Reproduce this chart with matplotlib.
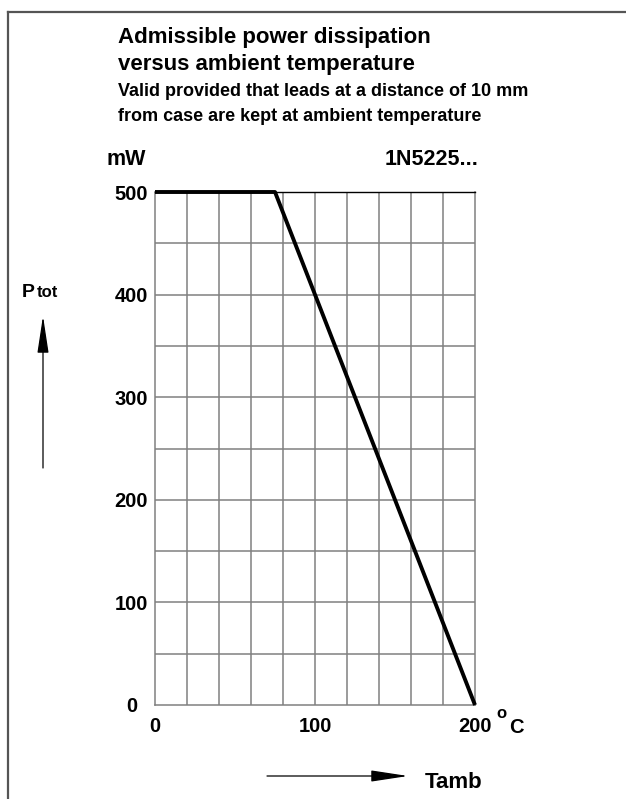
import matplotlib
matplotlib.use("Agg")
import matplotlib.pyplot as plt
from matplotlib.lines import Line2D

# derating curve
temp = [0, 75, 200]
power = [500, 500, 0]

x_ticks = [0, 100, 200]
y_ticks = [0, 100, 200, 300, 400, 500]
x_grid = list(range(0, 201, 20))
y_grid = list(range(0, 501, 50))

W, H = 626, 799
plt.rcParams['font.family'] = ['Liberation Sans', 'DejaVu Sans']
plt.rcParams['font.weight'] = 'bold'

fig = plt.figure(figsize=(W / 100, H / 100), dpi=100)


def fx(px):
    return px / W


def fy(py):
    return 1 - py / H


# outer frame (left and top edge only)
fig.add_artist(Line2D([fx(8), fx(8)], [fy(12), 0], color="#555555", lw=1.6))
fig.add_artist(Line2D([fx(8), 1], [fy(12), fy(12)], color="#555555", lw=1.6))

ax = fig.add_axes([fx(155), fy(705), fx(475) - fx(155), fy(192) - fy(705)])
ax.set_xlim(0, 200)
ax.set_ylim(0, 500)

for g in x_grid[1:-1]:
    ax.axvline(g, color="#808080", lw=1.1, zorder=1)
for g in y_grid[1:-1]:
    ax.axhline(g, color="#808080", lw=1.1, zorder=1)

ax.plot(temp, power, color="black", lw=2.8, solid_capstyle="butt", zorder=3,
        clip_on=False)

for s in ["left", "right", "bottom"]:
    ax.spines[s].set_color("#808080")
    ax.spines[s].set_linewidth(1.1)
ax.spines["top"].set_color("black")
ax.spines["top"].set_linewidth(1.0)

ax.set_xticks(x_ticks)
ax.set_xticklabels([str(v) for v in x_ticks], fontsize=14.5, fontweight="bold")
ax.set_yticks(y_ticks)
ax.set_yticklabels([str(v) for v in y_ticks], fontsize=14.5, fontweight="bold",
                   ha="center")
ax.tick_params(axis="both", length=0)
ax.tick_params(axis="x", pad=9)
ax.tick_params(axis="y", pad=17)

# titles
fig.text(fx(118), fy(43), "Admissible power dissipation", fontsize=16,
         fontweight="bold", va="baseline", ha="left")
fig.text(fx(118), fy(70), "versus ambient temperature", fontsize=16,
         fontweight="bold", va="baseline", ha="left")
fig.text(fx(118), fy(96), "Valid provided that leads at a distance of 10 mm",
         fontsize=13, fontweight="bold", va="baseline", ha="left")
fig.text(fx(118), fy(121), "from case are kept at ambient temperature",
         fontsize=13, fontweight="bold", va="baseline", ha="left")

fig.text(fx(107), fy(165), "mW", fontsize=15.5, fontweight="bold",
         va="baseline", ha="left")
fig.text(fx(478), fy(165), "1N5225...", fontsize=15.5, fontweight="bold",
         va="baseline", ha="right")

# unit after 200
fig.text(fx(501), fy(718), "o", fontsize=12, fontweight="bold",
         va="baseline", ha="center")
fig.text(fx(509), fy(733), "C", fontsize=14.5, fontweight="bold",
         va="baseline", ha="left")

# y axis quantity with arrow
fig.text(fx(22), fy(297), "P", fontsize=14, fontweight="bold",
         va="baseline", ha="left")
fig.text(fx(37), fy(297), "tot", fontsize=12, fontweight="bold",
         va="baseline", ha="left")
arrow_style = dict(arrowstyle="-|>,head_length=2.3,head_width=0.35",
                   color="black", lw=0.9, shrinkA=0, shrinkB=0)
fig.add_artist(plt.Annotation("", xy=(fx(43), fy(316)), xytext=(fx(43), fy(468)),
                              xycoords="figure fraction", arrowprops=arrow_style))

# x axis quantity with arrow
fig.add_artist(plt.Annotation("", xy=(fx(408), fy(776)), xytext=(fx(267), fy(776)),
                              xycoords="figure fraction", arrowprops=arrow_style))
fig.text(fx(425), fy(788), "Tamb", fontsize=16, fontweight="bold",
         va="baseline", ha="left")

fig.savefig("out.png", dpi=100)
